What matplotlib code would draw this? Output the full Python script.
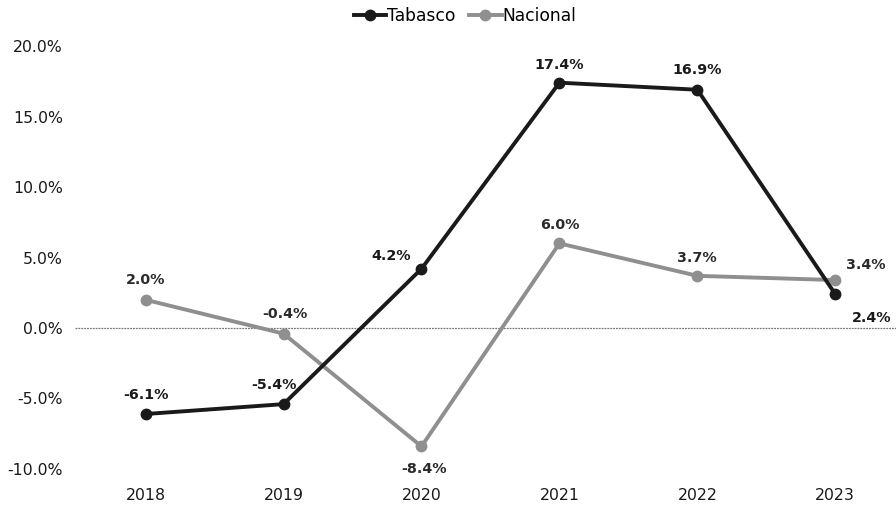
import matplotlib
matplotlib.use("Agg")
import matplotlib.pyplot as plt
from matplotlib.ticker import FuncFormatter

plt.rcParams['font.family'] = ['DejaVu Sans']

years = [2018, 2019, 2020, 2021, 2022, 2023]
tabasco = [-6.1, -5.4, 4.2, 17.4, 16.9, 2.4]
nacional = [2.0, -0.4, -8.4, 6.0, 3.7, 3.4]

# posicion de etiquetas (dx, dy) en puntos
tab_off = [(0, 14), (-7, 14), (-22, 9), (0, 13), (0, 14), (26, -17)]
nac_off = [(0, 14), (1, 14), (2, -16), (0, 13), (0, 13), (22, 11)]

fig = plt.figure(figsize=(8.96, 5.08), dpi=100)
ax = fig.add_axes([0.084, 0.0768, 0.916, 0.8326])

ax.axhline(0, color='#777777', lw=0.9, ls=(0, (1.5, 0.8)), zorder=1)

ax.plot(years, tabasco, color='#1a1a1a', lw=2.8, marker='o', ms=7.5,
        label='Tabasco', zorder=3)
ax.plot(years, nacional, color='#8f8f8f', lw=2.8, marker='o', ms=7.5,
        label='Nacional', zorder=2)

for x, y, (dx, dy) in zip(years, tabasco, tab_off):
    ax.annotate(f'{y:.1f}%', (x, y), textcoords='offset points', xytext=(dx, dy),
                ha='center', va='center', fontsize=10.3, fontweight='bold', color='#1a1a1a')
for x, y, (dx, dy) in zip(years, nacional, nac_off):
    ax.annotate(f'{y:.1f}%', (x, y), textcoords='offset points', xytext=(dx, dy),
                ha='center', va='center', fontsize=10.3, fontweight='bold', color='#2a2a2a')

ax.set_xlim(2017.49, 2023.44)
ax.set_ylim(-10, 20)
ax.set_xticks(years)
ax.set_yticks([-10, -5, 0, 5, 10, 15, 20])
ax.yaxis.set_major_formatter(FuncFormatter(lambda v, p: f'{v:.1f}%'))
ax.tick_params(length=0, labelsize=11.3, colors='#1a1a1a')
ax.tick_params(axis='x', pad=14)
ax.tick_params(axis='y', pad=9)
for s in ax.spines.values():
    s.set_visible(False)

ax.legend(loc='center', bbox_to_anchor=(0.475, 1.07), ncol=2, frameon=False,
          fontsize=12.3, handlelength=1.9, handletextpad=0.05, columnspacing=0.8,
          borderpad=0, borderaxespad=0)

fig.savefig('out.png', dpi=100, facecolor='white')
